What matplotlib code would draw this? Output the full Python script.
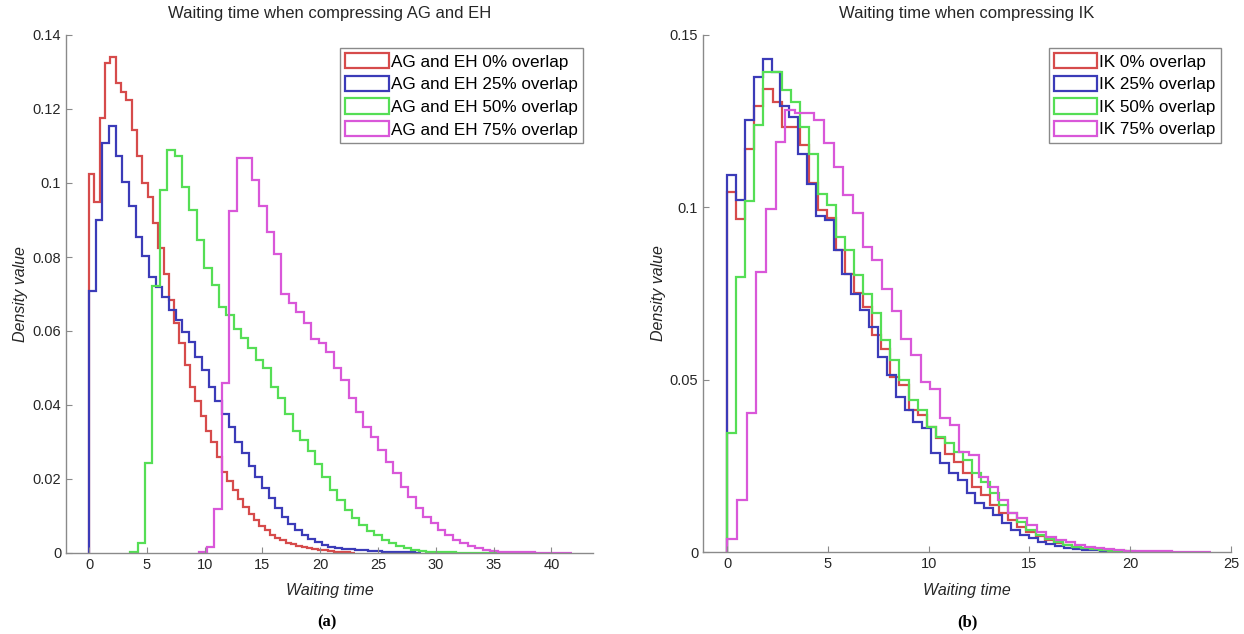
import numpy as np
import matplotlib
matplotlib.use('Agg')
import matplotlib.pyplot as plt
from matplotlib.patches import Patch
from matplotlib.ticker import FuncFormatter

plt.rcParams['font.family'] = ['Liberation Sans', 'DejaVu Sans']

# ---- panel (a): AG and EH ----
a_labels = ['AG and EH 0% overlap', 'AG and EH 25% overlap',
            'AG and EH 50% overlap', 'AG and EH 75% overlap']
# bin start and bin width of each histogram
a_start = [0.0, 0.0, 3.55, 9.55]
a_width = [0.46, 0.575, 0.64, 0.645]
a_red = [0.1024, 0.0949, 0.1175, 0.1325, 0.1341, 0.1271, 0.1247, 0.1224, 0.1143, 0.1073,
         0.0999, 0.0963, 0.0891, 0.0823, 0.0754, 0.0684, 0.0621, 0.0567, 0.0508, 0.0449,
         0.0410, 0.0370, 0.0330, 0.0300, 0.0260, 0.0220, 0.0195, 0.0170, 0.0145, 0.0125,
         0.0105, 0.0088, 0.0073, 0.0061, 0.0050, 0.0041, 0.0034, 0.0028, 0.0023, 0.0019,
         0.0016, 0.0013, 0.0011, 0.0009, 0.0007, 0.0005, 0.0004, 0.0003, 0.0002, 0.0001]
a_blue = [0.0709, 0.0900, 0.1107, 0.1154, 0.1073, 0.1004, 0.0939, 0.0855, 0.0803, 0.0747,
          0.0720, 0.0693, 0.0657, 0.0630, 0.0598, 0.0571, 0.0531, 0.0495, 0.0449, 0.0410,
          0.0375, 0.0340, 0.0300, 0.0270, 0.0235, 0.0205, 0.0175, 0.0148, 0.0122, 0.0098,
          0.0078, 0.0062, 0.0048, 0.0038, 0.0029, 0.0022, 0.0017, 0.0014, 0.0012, 0.0010,
          0.0009, 0.0007, 0.0006, 0.0005, 0.0004, 0.0003, 0.00025, 0.0002, 0.00015, 0.0001]
a_green = [0.0003, 0.0026, 0.0242, 0.0722, 0.0981, 0.1089, 0.1072, 0.0990, 0.0927, 0.0846,
           0.0769, 0.0724, 0.0666, 0.0643, 0.0605, 0.0580, 0.0553, 0.0522, 0.0499, 0.0450,
           0.0420, 0.0375, 0.0330, 0.0305, 0.0275, 0.0240, 0.0205, 0.0170, 0.0143, 0.0116,
           0.0094, 0.0076, 0.0060, 0.0049, 0.0035, 0.0026, 0.0019, 0.0013, 0.0009, 0.0006,
           0.0004, 0.0003, 0.0002, 0.0002, 0.0001, 0.0001, 0.0001, 0.00005, 0.00005, 0.00005]
a_pink = [0.0002, 0.0015, 0.0120, 0.0460, 0.0923, 0.1068, 0.1068, 0.1008, 0.0938, 0.0868,
          0.0808, 0.0700, 0.0675, 0.0652, 0.0622, 0.0578, 0.0567, 0.0544, 0.0499, 0.0468,
          0.0418, 0.0382, 0.0341, 0.0314, 0.0278, 0.0247, 0.0215, 0.0179, 0.0152, 0.0121,
          0.0098, 0.0080, 0.0062, 0.0049, 0.0035, 0.0026, 0.0019, 0.0013, 0.0008, 0.0006,
          0.0004, 0.0003, 0.0003, 0.0002, 0.0002, 0.0001, 0.0001, 0.0001, 0.0001, 0.0001]

# ---- panel (b): IK ----
b_labels = ['IK 0% overlap', 'IK 25% overlap', 'IK 50% overlap', 'IK 75% overlap']
b_start = [0.0, 0.0, 0.0, 0.0]
b_width = [0.45, 0.44, 0.45, 0.48]
b_red = [0.1044, 0.0965, 0.1170, 0.1293, 0.1344, 0.1305, 0.1233, 0.1233, 0.1180, 0.1070,
         0.0993, 0.0970, 0.0875, 0.0806, 0.0752, 0.0711, 0.0629, 0.0590, 0.0508, 0.0484,
         0.0412, 0.0397, 0.0363, 0.0330, 0.0285, 0.0260, 0.0228, 0.0190, 0.0165, 0.0135,
         0.0112, 0.0093, 0.0072, 0.0057, 0.0045, 0.0035, 0.0027, 0.0020, 0.0015, 0.0011,
         0.0008, 0.0005, 0.0003, 0.0002]
b_blue = [0.1093, 0.1022, 0.1254, 0.1378, 0.1429, 0.1392, 0.1293, 0.1262, 0.1156, 0.1067,
          0.0974, 0.0962, 0.0875, 0.0808, 0.0750, 0.0701, 0.0653, 0.0566, 0.0513, 0.0450,
          0.0412, 0.0378, 0.0359, 0.0286, 0.0257, 0.0228, 0.0209, 0.0170, 0.0141, 0.0127,
          0.0107, 0.0083, 0.0064, 0.0049, 0.0040, 0.0030, 0.0023, 0.0018, 0.0013, 0.0010,
          0.0007, 0.0005, 0.0003, 0.0002]
b_green = [0.0346, 0.0798, 0.1018, 0.1240, 0.1392, 0.1392, 0.1339, 0.1305, 0.1233, 0.1156,
           0.1040, 0.1006, 0.0914, 0.0875, 0.0803, 0.0750, 0.0692, 0.0614, 0.0557, 0.0499,
           0.0441, 0.0412, 0.0363, 0.0334, 0.0315, 0.0290, 0.0267, 0.0228, 0.0204, 0.0170,
           0.0136, 0.0112, 0.0088, 0.0064, 0.0050, 0.0038, 0.0028, 0.0020, 0.0015, 0.0011,
           0.0008, 0.0005, 0.0004, 0.0003, 0.0002]
b_pink = [0.0037, 0.0151, 0.0402, 0.0811, 0.0996, 0.1189, 0.1281, 0.1273, 0.1273, 0.1252,
          0.1186, 0.1117, 0.1035, 0.0983, 0.0885, 0.0846, 0.0764, 0.0699, 0.0619, 0.0571,
          0.0494, 0.0474, 0.0388, 0.0368, 0.0291, 0.0281, 0.0218, 0.0189, 0.0150, 0.0112,
          0.0098, 0.0078, 0.0059, 0.0044, 0.0035, 0.0028, 0.0020, 0.0015, 0.0011, 0.0008,
          0.0006, 0.0004, 0.0003, 0.0002, 0.0002, 0.0002, 0.0001, 0.0001, 0.0001, 0.0001]

colors = ['#d64b4b', '#3b3bb8', '#55de55', '#d957d9']
axis_gray = '#8a8a8a'
text_col = '#262626'


def draw_panel(ax, series, starts, widths, labels, title, xlim, ylim, xticks, yticks):
    for vals, s, w, c, lab in zip(series, starts, widths, colors, labels):
        edges = s + w * np.arange(len(vals) + 1)
        ax.stairs(vals, edges, baseline=0, color=c, linewidth=1.6, label=lab)
    ax.set_xlim(xlim)
    ax.set_ylim(ylim)
    ax.set_xticks(xticks)
    ax.set_yticks(yticks)
    ax.yaxis.set_major_formatter(FuncFormatter(lambda v, p: '%g' % round(v, 4)))
    for side in ['top', 'right']:
        ax.spines[side].set_visible(False)
    for side in ['left', 'bottom']:
        ax.spines[side].set_color(axis_gray)
        ax.spines[side].set_linewidth(1.0)
    ax.tick_params(direction='in', length=4, width=0.8, color=axis_gray,
                   labelcolor=text_col, labelsize=10.5)
    ax.set_title(title, fontsize=12, color=text_col, pad=12)
    ax.set_xlabel('Waiting time', fontsize=11.5, style='italic', color=text_col)
    ax.set_ylabel('Density value', fontsize=11.5, style='italic', color=text_col)
    # legend with outlined boxes like the stairs histograms
    handles = [Patch(facecolor='white', edgecolor=c, linewidth=1.6) for c in colors]
    leg = ax.legend(handles, labels, loc='upper right', bbox_to_anchor=(0.981, 0.975),
                    borderaxespad=0, fancybox=False, fontsize=12.3, handlelength=2.55,
                    handleheight=1.0, handletextpad=0.12, labelspacing=0.36,
                    borderpad=0.3, framealpha=1)
    leg.get_frame().set_edgecolor(axis_gray)
    leg.get_frame().set_linewidth(1.0)


fig = plt.figure(figsize=(12.44, 6.34), dpi=100)
ax1 = fig.add_axes([66 / 1244, 81 / 634, 527 / 1244, 518 / 634])
ax2 = fig.add_axes([703 / 1244, 82 / 634, 528 / 1244, 517 / 634])

draw_panel(ax1, [a_red, a_blue, a_green, a_pink], a_start, a_width, a_labels,
           'Waiting time when compressing AG and EH', (-2, 43.6), (0, 0.14),
           np.arange(0, 41, 5), np.arange(0, 0.141, 0.02))
draw_panel(ax2, [b_red, b_blue, b_green, b_pink], b_start, b_width, b_labels,
           'Waiting time when compressing IK', (-1.2, 25), (0, 0.15),
           np.arange(0, 26, 5), [0, 0.05, 0.1, 0.15])

ax1.xaxis.set_label_coords(0.5, -0.058)
ax2.xaxis.set_label_coords(0.5, -0.06)
ax1.yaxis.set_label_coords(-0.072, 0.5)
ax2.yaxis.set_label_coords(-0.07, 0.5)

fig.text(327 / 1244, 1 - 622 / 634, '(a)', ha='center', va='center', fontsize=12,
         fontweight='bold', family='Liberation Serif')
fig.text(967 / 1244, 1 - 622 / 634, '(b)', ha='center', va='center', fontsize=12,
         fontweight='bold', family='Liberation Serif')

fig.savefig('out.png', dpi=100, facecolor='white')
